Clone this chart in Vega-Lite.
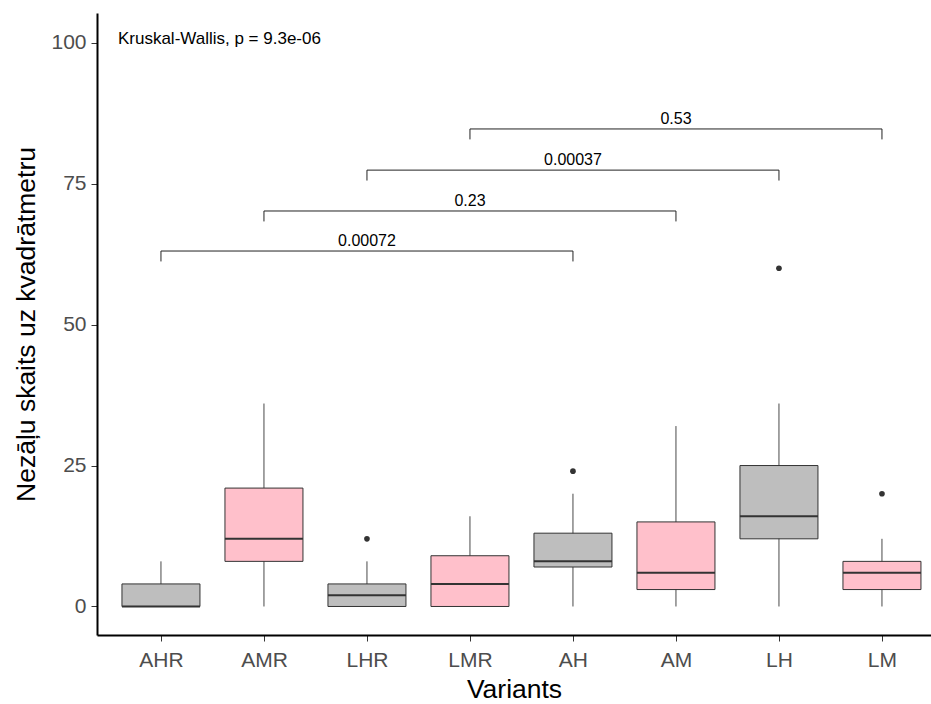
{
  "$schema": "https://vega.github.io/schema/vega-lite/v6.json",
  "autosize": {"type": "none"},
  "width": 834,
  "height": 622,
  "padding": {"left": 97, "top": 13, "right": 0, "bottom": 69},
  "background": "white",
  "config": {
    "view": {"stroke": null},
    "font": "Liberation Sans"
  },
  "datasets": {
    "boxes": [
      {"variant": "AHR", "lower": 0, "q1": 0, "median": 0, "q3": 4, "upper": 8, "group": "gray"},
      {"variant": "AMR", "lower": 0, "q1": 8, "median": 12, "q3": 21, "upper": 36, "group": "pink"},
      {"variant": "LHR", "lower": 0, "q1": 0, "median": 2, "q3": 4, "upper": 8, "group": "gray"},
      {"variant": "LMR", "lower": 0, "q1": 0, "median": 4, "q3": 9, "upper": 16, "group": "pink"},
      {"variant": "AH", "lower": 0, "q1": 7, "median": 8, "q3": 13, "upper": 20, "group": "gray"},
      {"variant": "AM", "lower": 0, "q1": 3, "median": 6, "q3": 15, "upper": 32, "group": "pink"},
      {"variant": "LH", "lower": 0, "q1": 12, "median": 16, "q3": 25, "upper": 36, "group": "gray"},
      {"variant": "LM", "lower": 0, "q1": 3, "median": 6, "q3": 8, "upper": 12, "group": "pink"}
    ],
    "outliers": [
      {"variant": "LHR", "value": 12},
      {"variant": "AH", "value": 24},
      {"variant": "LH", "value": 60},
      {"variant": "LM", "value": 20}
    ],
    "brackets": [
      {"from": "AHR", "to": "AH", "mid": "LHR", "y": 63.05, "ylow": 61.2, "label": "0.00072"},
      {"from": "AMR", "to": "AM", "mid": "LMR", "y": 70.15, "ylow": 68.3, "label": "0.23"},
      {"from": "LHR", "to": "LH", "mid": "AH", "y": 77.4, "ylow": 75.55, "label": "0.00037"},
      {"from": "LMR", "to": "LM", "mid": "AM", "y": 84.7, "ylow": 82.85, "label": "0.53"}
    ],
    "note": [
      {"variant": "AHR", "y": 99.7, "label": "Kruskal-Wallis, p = 9.3e-06"}
    ]
  },
  "layer": [
    {
      "data": {"name": "boxes"},
      "mark": {"type": "rule", "color": "#333333", "strokeWidth": 0.9},
      "encoding": {
        "x": {
          "field": "variant", "type": "nominal",
          "sort": ["AHR", "AMR", "LHR", "LMR", "AH", "AM", "LH", "LM"],
          "scale": {"type": "point", "padding": 0.5485, "align": 0.566, "domain": ["AHR", "AMR", "LHR", "LMR", "AH", "AM", "LH", "LM"]},
          "axis": {
            "title": "Variants", "titleFontSize": 26.5, "titleColor": "black", "titleFontWeight": "normal",
            "titlePadding": 6,
            "labelFontSize": 21, "labelColor": "#4D4D4D", "labelAngle": 0, "labelPadding": 8,
            "domainColor": "black", "domainWidth": 2,
            "tickColor": "#333333", "tickSize": 6, "tickWidth": 1,
            "grid": false
          }
        },
        "y": {
          "field": "lower", "type": "quantitative",
          "scale": {"domain": [-5.06, 105.27], "nice": false, "zero": false},
          "axis": {
            "title": "Nezāļu skaits uz kvadrātmetru", "titleFontSize": 26.5, "titleColor": "black", "titleFontWeight": "normal",
            "titlePadding": 10,
            "values": [0, 25, 50, 75, 100],
            "labelFontSize": 21, "labelColor": "#4D4D4D", "labelPadding": 5,
            "domainColor": "black", "domainWidth": 2,
            "tickColor": "#333333", "tickSize": 6, "tickWidth": 1,
            "grid": false
          }
        },
        "y2": {"field": "upper"}
      }
    },
    {
      "data": {"name": "boxes"},
      "mark": {"type": "bar", "size": 78, "stroke": "#333333", "strokeWidth": 1},
      "encoding": {
        "x": {"field": "variant", "type": "nominal"},
        "y": {"field": "q1", "type": "quantitative"},
        "y2": {"field": "q3"},
        "fill": {
          "field": "group", "type": "nominal",
          "scale": {"domain": ["gray", "pink"], "range": ["#BEBEBE", "#FFC0CB"]},
          "legend": null
        }
      }
    },
    {
      "data": {"name": "boxes"},
      "mark": {"type": "tick", "size": 78, "thickness": 2, "color": "#333333", "opacity": 1},
      "encoding": {
        "x": {"field": "variant", "type": "nominal"},
        "y": {"field": "median", "type": "quantitative"}
      }
    },
    {
      "data": {"name": "outliers"},
      "mark": {"type": "point", "filled": true, "color": "#333333", "size": 32, "opacity": 1},
      "encoding": {
        "x": {"field": "variant", "type": "nominal"},
        "y": {"field": "value", "type": "quantitative"}
      }
    },
    {
      "data": {"name": "brackets"},
      "mark": {"type": "rule", "color": "#222222", "strokeWidth": 1},
      "encoding": {
        "x": {"field": "from", "type": "nominal"},
        "x2": {"field": "to"},
        "y": {"field": "y", "type": "quantitative"}
      }
    },
    {
      "data": {"name": "brackets"},
      "mark": {"type": "rule", "color": "#222222", "strokeWidth": 1},
      "encoding": {
        "x": {"field": "from", "type": "nominal"},
        "y": {"field": "y", "type": "quantitative"},
        "y2": {"field": "ylow"}
      }
    },
    {
      "data": {"name": "brackets"},
      "mark": {"type": "rule", "color": "#222222", "strokeWidth": 1},
      "encoding": {
        "x": {"field": "to", "type": "nominal"},
        "y": {"field": "y", "type": "quantitative"},
        "y2": {"field": "ylow"}
      }
    },
    {
      "data": {"name": "brackets"},
      "mark": {"type": "text", "fontSize": 16, "color": "black", "baseline": "alphabetic", "dy": -5, "align": "center"},
      "encoding": {
        "x": {"field": "mid", "type": "nominal"},
        "y": {"field": "y", "type": "quantitative"},
        "text": {"field": "label"}
      }
    },
    {
      "data": {"name": "note"},
      "mark": {"type": "text", "fontSize": 17, "color": "black", "baseline": "alphabetic", "align": "left", "dx": -43},
      "encoding": {
        "x": {"field": "variant", "type": "nominal"},
        "y": {"field": "y", "type": "quantitative"},
        "text": {"field": "label"}
      }
    }
  ]
}
